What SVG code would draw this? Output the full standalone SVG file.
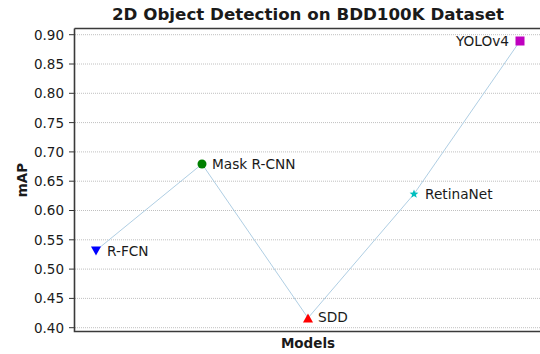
<svg xmlns="http://www.w3.org/2000/svg" width="540" height="354" viewBox="0 0 540 354">
<style>
text{font-family:"DejaVu Sans",sans-serif;fill:#1a1a1a}
.tk{font-size:13.5px;text-anchor:end}
.lb{font-size:13.7px}
.grid line{stroke:#b0b0b0;stroke-width:0.8;stroke-dasharray:1,1}
.ticks line{stroke:#333;stroke-width:1}
.b{font-weight:bold}
</style>
<rect width="540" height="354" fill="#fff"/>
<text x="308" y="20" class="b" font-size="16.7" text-anchor="middle">2D Object Detection on BDD100K Dataset</text>
<g class="grid">
<line x1="75" x2="540" y1="34.7" y2="34.7"/>
<line x1="75" x2="540" y1="64" y2="64"/>
<line x1="75" x2="540" y1="93.3" y2="93.3"/>
<line x1="75" x2="540" y1="122.6" y2="122.6"/>
<line x1="75" x2="540" y1="151.9" y2="151.9"/>
<line x1="75" x2="540" y1="181.2" y2="181.2"/>
<line x1="75" x2="540" y1="210.5" y2="210.5"/>
<line x1="75" x2="540" y1="239.8" y2="239.8"/>
<line x1="75" x2="540" y1="269.1" y2="269.1"/>
<line x1="75" x2="540" y1="298.4" y2="298.4"/>
<line x1="75" x2="540" y1="327.7" y2="327.7"/>
</g>
<g class="ticks">
<line x1="69" x2="74" y1="34.7" y2="34.7"/>
<line x1="69" x2="74" y1="64" y2="64"/>
<line x1="69" x2="74" y1="93.3" y2="93.3"/>
<line x1="69" x2="74" y1="122.6" y2="122.6"/>
<line x1="69" x2="74" y1="151.9" y2="151.9"/>
<line x1="69" x2="74" y1="181.2" y2="181.2"/>
<line x1="69" x2="74" y1="210.5" y2="210.5"/>
<line x1="69" x2="74" y1="239.8" y2="239.8"/>
<line x1="69" x2="74" y1="269.1" y2="269.1"/>
<line x1="69" x2="74" y1="298.4" y2="298.4"/>
<line x1="69" x2="74" y1="327.7" y2="327.7"/>
</g>
<g>
<text class="tk" x="64" y="39.6">0.90</text>
<text class="tk" x="64" y="68.9">0.85</text>
<text class="tk" x="64" y="98.2">0.80</text>
<text class="tk" x="64" y="127.5">0.75</text>
<text class="tk" x="64" y="156.8">0.70</text>
<text class="tk" x="64" y="186.1">0.65</text>
<text class="tk" x="64" y="215.4">0.60</text>
<text class="tk" x="64" y="244.7">0.55</text>
<text class="tk" x="64" y="274">0.50</text>
<text class="tk" x="64" y="303.3">0.45</text>
<text class="tk" x="64" y="332.6">0.40</text>
</g>
<text class="b" font-size="13.5" text-anchor="middle" transform="translate(27,180) rotate(-90)">mAP</text>
<text class="b" x="308" y="348" font-size="13.5" text-anchor="middle">Models</text>
<g id="connectors">
<polyline points="96,250.5 202,164 308,318 414,194 520,41" fill="none" stroke="#a6c8e0" stroke-width="0.9"/>
</g>
<path d="M74.5,28.5 H540 M74.5,28.5 V331.5 H540" fill="none" stroke="#3a3a3a" stroke-width="1.6"/>
<g id="rfcn">
<path d="M91,246.5 L101,246.5 L96,255.5 Z" fill="#0000ff"/>
<text class="lb" x="107" y="255.5">R-FCN</text>
</g>
<g id="maskrcnn">
<circle cx="202" cy="164" r="4.5" fill="#008000"/>
<text class="lb" x="212" y="169">Mask R-CNN</text>
</g>
<g id="sdd">
<path d="M303,322.5 L313,322.5 L308,313.5 Z" fill="#ff0000"/>
<text class="lb" x="318" y="322">SDD</text>
</g>
<g id="retinanet">
<path d="M414,189.5 L415.2,192.6 L418.4,192.7 L415.9,194.7 L416.8,197.8 L414,196 L411.2,197.8 L412.1,194.7 L409.6,192.7 L412.8,192.6 Z" fill="#00bfbf"/>
<text class="lb" x="425" y="199">RetinaNet</text>
</g>
<g id="yolov4">
<rect x="515.5" y="36.5" width="9" height="9" fill="#bf00bf"/>
<text class="lb" x="509" y="46" text-anchor="end">YOLOv4</text>
</g>
</svg>
